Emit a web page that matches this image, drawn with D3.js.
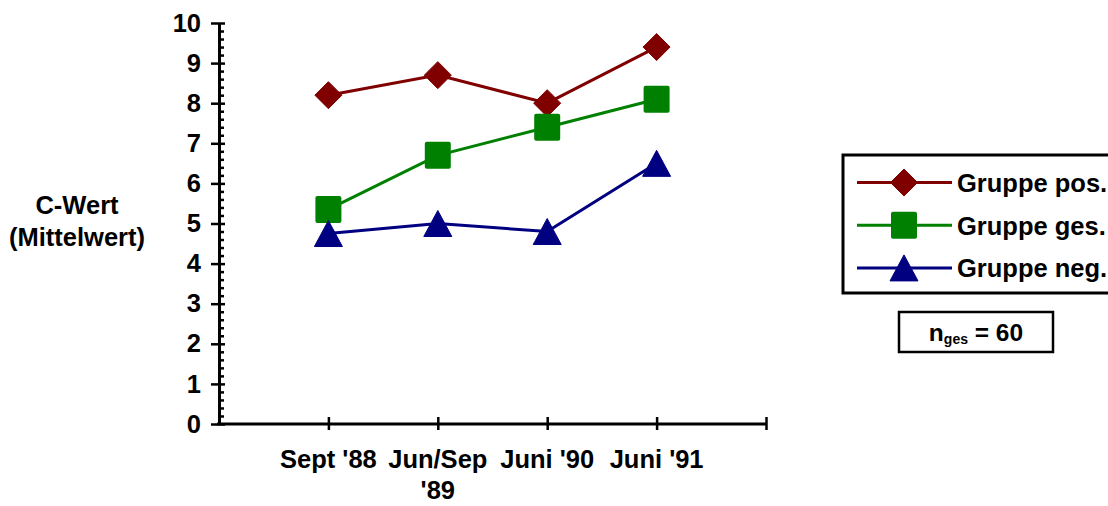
<!DOCTYPE html>
<html>
<head>
<meta charset="utf-8">
<script src="https://cdn.jsdelivr.net/npm/d3@7/dist/d3.min.js"></script>
<style>
  html, body { margin: 0; padding: 0; background: #fff; }
  svg { display: block; }
  text { font-family: "Liberation Sans", Arial, sans-serif; font-weight: bold; fill: #000; }
</style>
</head>
<body>
<svg id="chart" width="1108" height="506"></svg>
<script>
// Messzeitpunkte
const categories = ["Sept '88", "Jun/Sep '89", "Juni '90", "Juni '91"];

// C-Wert (Mittelwert) je Gruppe
const gruppePos = [8.2, 8.7, 8.0, 9.4];
const gruppeGes = [5.35, 6.7, 7.4, 8.1];
const gruppeNeg = [4.75, 5.0, 4.8, 6.5];

const seriesNames = ["Gruppe pos.", "Gruppe ges.", "Gruppe neg."];
const yTickValues = [0, 1, 2, 3, 4, 5, 6, 7, 8, 9, 10];
const yAxisTitle = ["C-Wert", "(Mittelwert)"];
const sampleNote = { base: "n", sub: "ges", rest: " = 60" };

const FONT = 25.5;

const series = [
  { name: seriesNames[0], values: gruppePos, color: "#800000", symbol: "diamond" },
  { name: seriesNames[1], values: gruppeGes, color: "#008000", symbol: "square" },
  { name: seriesNames[2], values: gruppeNeg, color: "#000080", symbol: "triangle" }
];

const svg = d3.select("#chart");
const plot = { left: 219, right: 766, top: 23, bottom: 424 };

// categories sit on ticks 1..4, the axis runs one extra interval to tick 5
const x = d3.scaleLinear().domain([0, categories.length + 1]).range([plot.left, plot.right]);
const y = d3.scaleLinear().domain([0, 10]).range([plot.bottom, plot.top]);

function drawMarker(g, type, cx, cy, color) {
  if (type === "diamond") {
    const h = 13.5;
    g.append("path")
      .attr("d", `M${cx},${cy - h}L${cx + h},${cy}L${cx},${cy + h}L${cx - h},${cy}Z`)
      .attr("fill", color).attr("stroke", color).attr("stroke-width", 1).attr("stroke-linejoin", "round");
  } else if (type === "square") {
    const s = 26;
    g.append("rect")
      .attr("x", cx - s / 2).attr("y", cy - s / 2 - 0.5)
      .attr("width", s).attr("height", s + 1).attr("rx", 2)
      .attr("fill", color);
  } else {
    const w = 28, h = 26;
    g.append("path")
      .attr("d", `M${cx},${cy - h / 2}L${cx + w / 2},${cy + h / 2}L${cx - w / 2},${cy + h / 2}Z`)
      .attr("fill", color).attr("stroke", color).attr("stroke-width", 1).attr("stroke-linejoin", "round");
  }
}

// ---- y axis: labelled major ticks crossing the line, minor ticks inside
const yAxisG = svg.append("g").attr("transform", `translate(${plot.left},0)`);
yAxisG.call(d3.axisLeft(y).tickValues(yTickValues).tickSizeInner(8).tickSizeOuter(0).tickPadding(10).tickFormat(d3.format("d")));
yAxisG.select(".domain").attr("stroke", "#000").attr("stroke-width", 3);
yAxisG.selectAll(".tick line").attr("stroke", "#000").attr("stroke-width", 2.5);
yAxisG.selectAll(".tick text").attr("font-size", FONT).attr("font-family", null).attr("fill", "#000");

const yMajorIn = svg.append("g").attr("transform", `translate(${plot.left},0)`);
yMajorIn.call(d3.axisRight(y).tickValues(yTickValues).tickSizeInner(6).tickSizeOuter(0).tickFormat(""));
yMajorIn.select(".domain").remove();
yMajorIn.selectAll(".tick line").attr("stroke", "#000").attr("stroke-width", 2.5);

const minorValues = d3.range(0, 50).map(i => i * 0.2).filter(v => Math.abs(v - Math.round(v)) > 1e-6);
const yMinor = svg.append("g").attr("transform", `translate(${plot.left},0)`);
yMinor.call(d3.axisRight(y).tickValues(minorValues).tickSizeInner(5).tickSizeOuter(0).tickFormat(""));
yMinor.select(".domain").remove();
yMinor.selectAll(".tick line").attr("stroke", "#000").attr("stroke-width", 2.5);

// ---- x axis: ticks crossing the line
const xTicks = d3.range(1, categories.length + 2);
const xAxisG = svg.append("g").attr("transform", `translate(0,${plot.bottom})`);
xAxisG.call(d3.axisBottom(x).tickValues(xTicks).tickSizeInner(6).tickSizeOuter(0).tickFormat(""));
xAxisG.select(".domain").attr("stroke", "#000").attr("stroke-width", 3)
  .attr("d", `M${plot.left - 2},0H${plot.right}`);
xAxisG.selectAll(".tick line").attr("stroke", "#000").attr("stroke-width", 2.5);
const xAxisTop = svg.append("g").attr("transform", `translate(0,${plot.bottom})`);
xAxisTop.call(d3.axisTop(x).tickValues(xTicks).tickSizeInner(7).tickSizeOuter(0).tickFormat(""));
xAxisTop.select(".domain").remove();
xAxisTop.selectAll(".tick line").attr("stroke", "#000").attr("stroke-width", 2.5);

// category labels, wrapped to the width of one interval
const bandW = x(1) - x(0) - 2;
const labelG = svg.append("g");
categories.forEach((c, i) => {
  const t = labelG.append("text")
    .attr("x", x(i + 1)).attr("y", 468).attr("text-anchor", "middle").attr("font-size", FONT);
  const words = c.split(" ");
  let line = [];
  let tspan = t.append("tspan").attr("x", x(i + 1)).attr("dy", 0);
  words.forEach(w => {
    line.push(w);
    tspan.text(line.join(" "));
    if (tspan.node().getComputedTextLength() > bandW && line.length > 1) {
      line.pop();
      tspan.text(line.join(" "));
      line = [w];
      tspan = t.append("tspan").attr("x", x(i + 1)).attr("dy", 31).text(w);
    }
  });
});

// ---- y axis title
const titleG = svg.append("text").attr("text-anchor", "middle").attr("font-size", FONT);
yAxisTitle.forEach((s, i) => {
  titleG.append("tspan").attr("x", 77).attr("y", 214 + i * 32).text(s);
});

// ---- series
const line = d3.line().x((d, i) => x(i + 1)).y(d => y(d));
series.forEach(s => {
  const g = svg.append("g");
  g.append("path").attr("d", line(s.values))
    .attr("fill", "none").attr("stroke", s.color).attr("stroke-width", 3);
  s.values.forEach((v, i) => drawMarker(g, s.symbol, x(i + 1), y(v), s.color));
});

// ---- legend
const leg = svg.append("g");
leg.append("rect").attr("x", 843).attr("y", 155).attr("width", 290).attr("height", 138)
  .attr("fill", "#fff").attr("stroke", "#000").attr("stroke-width", 3);
series.forEach((s, i) => {
  const cy = 182.5 + i * 42.7;
  leg.append("line").attr("x1", 857).attr("x2", 952).attr("y1", cy).attr("y2", cy)
    .attr("stroke", s.color).attr("stroke-width", 3);
  drawMarker(leg, s.symbol, 904, cy, s.color);
  leg.append("text").attr("x", 957).attr("y", cy + 9.5).attr("font-size", FONT).text(s.name);
});

// ---- sample size box
const nb = svg.append("g");
nb.append("rect").attr("x", 899).attr("y", 312).attr("width", 154).attr("height", 40)
  .attr("fill", "#fff").attr("stroke", "#000").attr("stroke-width", 2.5);
const nt = nb.append("text").attr("x", 976).attr("y", 341).attr("text-anchor", "middle").attr("font-size", 24.5);
nt.append("tspan").text(sampleNote.base);
nt.append("tspan").attr("font-size", 14).attr("dy", 3).text(sampleNote.sub);
nt.append("tspan").attr("dy", -3).text(sampleNote.rest);
</script>
</body>
</html>
